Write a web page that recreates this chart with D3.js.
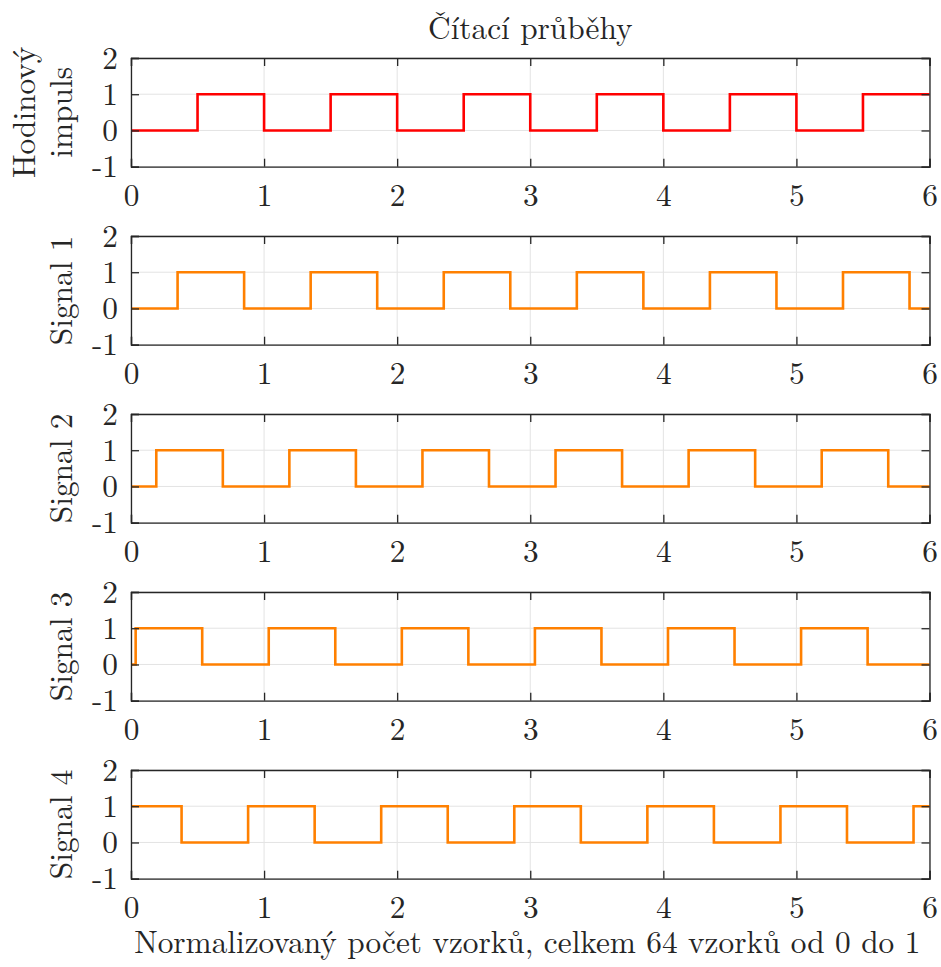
<!DOCTYPE html>
<html>
<head>
<meta charset="utf-8">
<script src="https://cdn.jsdelivr.net/npm/d3@7"></script>
<style>
  body { margin: 0; background: #fff; }
  text { font-family: "Latin Modern Roman", "Liberation Serif", serif; fill: #262626; }
</style>
</head>
<body>
<div id="chart"></div>
<script>
// tick values
var xTicks = [0, 1, 2, 3, 4, 5, 6];
var yTicks = [-1, 0, 1, 2];

// step edges (x where the level changes) and the level held after each edge
var clockX = [0, 0.5, 1, 1.5, 2, 2.5, 3, 3.5, 4, 4.5, 5, 5.5, 6];
var clockY = [0, 1, 0, 1, 0, 1, 0, 1, 0, 1, 0, 1, 1];
var sig1X = [0, 0.35, 0.85, 1.35, 1.85, 2.35, 2.85, 3.35, 3.85, 4.35, 4.85, 5.35, 5.85, 6];
var sig1Y = [0, 1, 0, 1, 0, 1, 0, 1, 0, 1, 0, 1, 0, 0];
var sig2X = [0, 0.19, 0.69, 1.19, 1.69, 2.19, 2.69, 3.19, 3.69, 4.19, 4.69, 5.19, 5.69, 6];
var sig2Y = [0, 1, 0, 1, 0, 1, 0, 1, 0, 1, 0, 1, 0, 0];
var sig3X = [0, 0.035, 0.535, 1.035, 1.535, 2.035, 2.535, 3.035, 3.535, 4.035, 4.535, 5.035, 5.535, 6];
var sig3Y = [0, 1, 0, 1, 0, 1, 0, 1, 0, 1, 0, 1, 0, 0];
var sig4X = [0, 0.38, 0.88, 1.38, 1.88, 2.38, 2.88, 3.38, 3.88, 4.38, 4.88, 5.38, 5.88, 6];
var sig4Y = [1, 0, 1, 0, 1, 0, 1, 0, 1, 0, 1, 0, 1, 1];

var labels = [["Hodinový", "impuls"], ["Signal 1"], ["Signal 2"], ["Signal 3"], ["Signal 4"]];
var colors = ["#ff0000", "#ff8000", "#ff8000", "#ff8000", "#ff8000"];
var title = "Čítací průběhy";
var xLabel = "Normalizovaný počet vzorků, celkem 64 vzorků od 0 do 1";

var panels = [[clockX, clockY], [sig1X, sig1Y], [sig2X, sig2Y], [sig3X, sig3Y], [sig4X, sig4Y]].map(function(p, i) {
  return {
    pts: p[0].map(function(x, k) { return {x: x, y: p[1][k]}; }),
    label: labels[i],
    color: colors[i]
  };
});

var width = 941, height = 967;
var left = 131, right = 929.5;
var top0 = 58, step = 178, ph = 108.7;
var fs = 31.3;

var svg = d3.select("#chart").append("svg").attr("width", width).attr("height", height);

var x = d3.scaleLinear().domain([0, 6]).range([left, right]);

panels.forEach(function(p, i) {
  var t = top0 + i * step;
  var y = d3.scaleLinear().domain([-1, 2]).range([t + ph, t]);
  var g = svg.append("g");

  // grid
  g.selectAll(".gx").data(xTicks).enter().append("line")
    .attr("x1", function(d) { return x(d); }).attr("x2", function(d) { return x(d); })
    .attr("y1", t).attr("y2", t + ph)
    .attr("stroke", "#e3e3e3").attr("stroke-width", 1);
  g.selectAll(".gy").data(yTicks).enter().append("line")
    .attr("x1", left).attr("x2", right)
    .attr("y1", function(d) { return y(d); }).attr("y2", function(d) { return y(d); })
    .attr("stroke", "#e3e3e3").attr("stroke-width", 1);

  // signal
  var line = d3.line()
    .x(function(d) { return x(d.x); })
    .y(function(d) { return y(d.y); })
    .curve(d3.curveStepAfter);
  g.append("path").datum(p.pts)
    .attr("d", line)
    .attr("fill", "none")
    .attr("stroke", p.color)
    .attr("stroke-width", 2.6);

  // axes with inward ticks
  var ax = g.append("g").attr("transform", "translate(0," + (t + ph) + ")")
    .call(d3.axisBottom(x).tickValues(xTicks).tickSize(-8).tickPadding(17.5).tickFormat(d3.format("d")));
  var axTop = g.append("g").attr("transform", "translate(0," + t + ")")
    .call(d3.axisTop(x).tickValues(xTicks).tickSize(-8).tickFormat(""));
  var ay = g.append("g").attr("transform", "translate(" + left + ",0)")
    .call(d3.axisLeft(y).tickValues(yTicks).tickSize(-8).tickPadding(13).tickFormat(d3.format("d")));
  var ayR = g.append("g").attr("transform", "translate(" + right + ",0)")
    .call(d3.axisRight(y).tickValues(yTicks).tickSize(-8).tickFormat(""));

  [ax, axTop, ay, ayR].forEach(function(a) {
    a.select(".domain").attr("stroke", "#262626").attr("stroke-width", 1.3);
    a.selectAll(".tick line").attr("stroke", "#262626").attr("stroke-width", 1.3);
    a.selectAll(".tick text").attr("font-size", fs).attr("fill", "#262626");
  });
  ay.selectAll(".tick text").text(function(d) { return d < 0 ? "-" + Math.abs(d) : d; });

  // y label
  var cy = t + ph / 2;
  var two = p.label.length > 1;
  var lab = g.append("text")
    .attr("transform", "translate(" + (two ? 35 : 72) + "," + cy + ") rotate(-90)")
    .attr("text-anchor", "middle")
    .attr("font-size", fs);
  p.label.forEach(function(s, k) {
    lab.append("tspan").attr("x", 0).attr("dy", k === 0 ? 0 : 37).text(s);
  });
});

svg.append("text")
  .attr("x", (left + right) / 2).attr("y", 39)
  .attr("text-anchor", "middle").attr("font-size", fs)
  .text(title);

svg.append("text")
  .attr("x", (left + right) / 2 - 3).attr("y", 953)
  .attr("text-anchor", "middle").attr("font-size", fs)
  .text(xLabel);
</script>
</body>
</html>
